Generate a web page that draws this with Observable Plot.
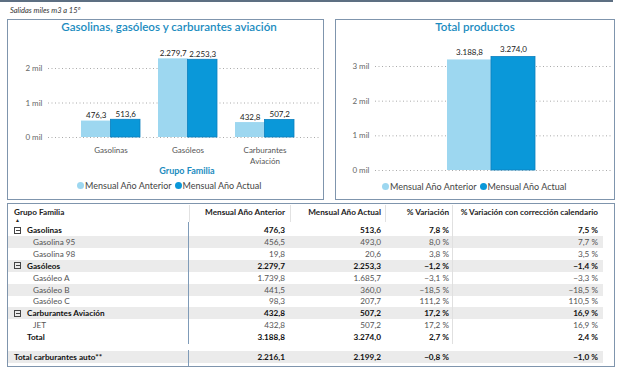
<!DOCTYPE html>
<html><head><meta charset="utf-8">
<script src="https://cdn.jsdelivr.net/npm/d3@7"></script>
<script src="https://cdn.jsdelivr.net/npm/@observablehq/plot@0.6"></script>
<style>
html,body{margin:0;padding:0;background:#fff;}
#root{position:relative;width:620px;height:369px;overflow:hidden;font-family:Lato,"Open Sans",sans-serif;background:#fff;}
.abs{position:absolute;}
.box{position:absolute;border:1px solid #7f95ad;box-sizing:border-box;}
.ttl{position:absolute;color:#1b8cc0;font-weight:600;font-size:11.6px;white-space:nowrap;transform:translateX(-50%);line-height:14px;}
.leg{position:absolute;font-size:9px;color:#444;white-space:nowrap;line-height:11px;display:flex;align-items:center;}
.dot{display:inline-block;width:7px;height:7px;border-radius:50%;margin-right:1px;}
.cell{position:absolute;font-size:8.2px;line-height:12px;white-space:nowrap;}
</style></head>
<body><div id="root"></div>
<script>
// ---------- data ----------
const families = ["Gasolinas", "Gasóleos", "Carburantes Aviación"];
const familyLines = [["Gasolinas"], ["Gasóleos"], ["Carburantes", "Aviación"]];
const anteriorFam = [476.3, 2279.7, 432.8];
const actualFam = [513.6, 2253.3, 507.2];
const totalLabel = ["Total productos"];
const anteriorTotal = [3188.8];
const actualTotal = [3274.0];
const leftTicks = [0, 1000, 2000];
const rightTicks = [0, 1000, 2000, 3000];
const seriesNames = ["Mensual Año Anterior", "Mensual Año Actual"];

const tableHeader = ["Grupo Familia", "Mensual Año Anterior", "Mensual Año Actual", "% Variación", "% Variación con corrección calendario"];
const rowLabels = ["Gasolinas", "Gasolina 95", "Gasolina 98", "Gasóleos", "Gasóleo A", "Gasóleo B", "Gasóleo C", "Carburantes Aviación", "JET", "Total", "Total carburantes auto**"];
const rowTypes = ["group", "item", "item", "group", "item", "item", "item", "group", "item", "total", "grand"];
const colAnterior = [476.3, 456.5, 19.8, 2279.7, 1739.8, 441.5, 98.3, 432.8, 432.8, 3188.8, 2216.1];
const colActual = [513.6, 493.0, 20.6, 2253.3, 1685.7, 360.0, 207.7, 507.2, 507.2, 3274.0, 2199.2];
const colVariacion = [7.8, 8.0, 3.8, -1.2, -3.1, -18.5, 111.2, 17.2, 17.2, 2.7, -0.8];
const colVariacionCal = [7.5, 7.7, 3.5, -1.4, -3.3, -18.5, 110.5, 16.9, 16.9, 2.4, -1.0];

// ---------- helpers ----------
const locale = d3.formatLocale({decimal: ",", thousands: ".", grouping: [3], currency: ["", "€"]});
const fmt = locale.format(",.1f");
const fmtPct = v => locale.format(".1f")(v) + " %";
const light = "#9dd7f0", dark = "#0a98d9";
const FONT = "Lato, 'Open Sans', sans-serif";
const root = document.getElementById("root");
function el(tag, cls, style, text) {
  const e = document.createElement(tag);
  if (cls) e.className = cls;
  Object.assign(e.style, style || {});
  if (text != null) e.textContent = text;
  root.appendChild(e);
  return e;
}

// ---------- frame ----------
el("div", "abs", {left: "0px", top: "0px", width: "613px", height: "2px", background: "#5d6f82"});
el("div", "abs", {left: "10px", top: "5px", fontSize: "7.5px", fontStyle: "italic", color: "#333", lineHeight: "12px"}, "Salidas miles m3 a 15º");
el("div", "box", {left: "7px", top: "19px", width: "317px", height: "181px"});
el("div", "box", {left: "335px", top: "19px", width: "280px", height: "181px"});
el("div", "box", {left: "7px", top: "203px", width: "608px", height: "164px"});

el("div", "ttl", {left: "169px", top: "20px"}, "Gasolinas, gasóleos y carburantes aviación");
el("div", "ttl", {left: "475px", top: "20px"}, "Total productos");

// ---------- left chart ----------
const famData = families.map((f, i) => ({f, anterior: anteriorFam[i], actual: actualFam[i]}));
const labelData = families.flatMap((f, i) => familyLines[i].map((t, j) => ({f, t, j})));
const step = 77.5, pad = 0.24, half = step * (1 - pad) / 2;
const left = Plot.plot({
  width: 325, height: 128, marginLeft: 48, marginRight: 5, marginTop: 0, marginBottom: 0,
  style: {fontFamily: FONT, fontSize: "8px", color: "#666", background: "transparent", overflow: "visible"},
  x: {domain: families, range: [61.4, 312.5], padding: pad, axis: null},
  y: {domain: [0, 2000], range: [97, 28], axis: null},
  marks: [
    Plot.ruleY(leftTicks, {stroke: "#aaa", strokeDasharray: "1,2.5", strokeWidth: 1}),
    Plot.axisY({ticks: leftTicks, tickSize: 0, tickPadding: 6, label: null, tickFormat: d => d / 1000 + " mil", fill: "#666", fontSize: 8}),
    Plot.text(labelData.filter(d => d.j === 0), {x: "f", y: d => 0, text: "t", dy: 13, fill: "#555", fontSize: 8}),
    Plot.text(labelData.filter(d => d.j === 1), {x: "f", y: d => 0, text: "t", dy: 24, fill: "#555", fontSize: 8}),
    Plot.barY(famData, {x: "f", y: "anterior", fill: light, insetRight: half}),
    Plot.barY(famData, {x: "f", y: "actual", fill: dark, stroke: "#0b7fbf", strokeWidth: 0.8, insetLeft: half}),
    Plot.text(famData, {x: "f", y: "anterior", text: d => fmt(d.anterior), dx: -half / 2, dy: -3, lineAnchor: "bottom", fill: "#222", fontSize: 8}),
    Plot.text(famData, {x: "f", y: "actual", text: d => fmt(d.actual), dx: half / 2, dy: -3, lineAnchor: "bottom", fill: "#222", fontSize: 8})
  ]
});
Object.assign(left.style, {position: "absolute", left: "0px", top: "40px"});
root.appendChild(left);
el("div", "abs", {left: "187px", top: "165px", transform: "translateX(-50%)", color: "#1b8cc0", fontWeight: "700", fontSize: "9px", lineHeight: "12px"}, "Grupo Familia");

function legend(x, y) {
  const lg = el("div", "leg", {left: x + "px", top: y + "px"});
  seriesNames.forEach((s, i) => {
    const d = document.createElement("span");
    d.className = "dot";
    d.style.background = i ? dark : light;
    if (i) d.style.marginLeft = "3px";
    lg.appendChild(d);
    lg.appendChild(document.createTextNode(s));
  });
}
legend(77, 180);
legend(382, 181);

// ---------- right chart ----------
const totData = totalLabel.map((f, i) => ({f, anterior: anteriorTotal[i], actual: actualTotal[i]}));
const right = Plot.plot({
  width: 290, height: 140, marginLeft: 45, marginRight: 8, marginTop: 0, marginBottom: 0,
  style: {fontFamily: FONT, fontSize: "8px", color: "#666", background: "transparent", overflow: "visible"},
  x: {domain: totalLabel, range: [117, 205], padding: 0, axis: null},
  y: {domain: [0, 3000], range: [130, 26], axis: null},
  marks: [
    Plot.ruleY(rightTicks, {stroke: "#aaa", strokeDasharray: "1,2.5", strokeWidth: 1}),
    Plot.axisY({ticks: rightTicks, tickSize: 0, tickPadding: 6, label: null, tickFormat: d => d / 1000 + " mil", fill: "#666", fontSize: 8}),
    Plot.barY(totData, {x: "f", y: "anterior", fill: light, insetRight: 44}),
    Plot.barY(totData, {x: "f", y: "actual", fill: dark, stroke: "#0b7fbf", strokeWidth: 0.8, insetLeft: 44}),
    Plot.text(totData, {x: "f", y: "anterior", text: d => fmt(d.anterior), dx: -22, dy: -5, lineAnchor: "bottom", fill: "#222", fontSize: 8}),
    Plot.text(totData, {x: "f", y: "actual", text: d => fmt(d.actual), dx: 22, dy: -5, lineAnchor: "bottom", fill: "#222", fontSize: 8})
  ]
});
Object.assign(right.style, {position: "absolute", left: "330px", top: "40px"});
root.appendChild(right);

// ---------- table ----------
const colEdges = [8, 189, 290, 385, 452, 603];
const padRight = [0, 5, 4, 3, 5];
// header
tableHeader.forEach((h, c) => {
  const st = {top: "206px", fontWeight: "700", color: "#222"};
  if (c === 0) st.left = "14px";
  else st.right = (620 - colEdges[c + 1] + padRight[c]) + "px";
  el("div", "cell", st, h);
});
el("div", "abs", {left: "15px", top: "218px", fontSize: "5px", color: "#222", lineHeight: "5px"}, "▲");
[189, 290, 385, 452].forEach(x => el("div", "abs", {left: x + "px", top: "205px", width: "1px", height: "17px", background: "#e2e2e2"}));

const rowTop = i => i < 10 ? 224 + i * 11.9 : 351;
rowLabels.forEach((lab, i) => {
  const t = rowTop(i), type = rowTypes[i];
  const bg = [1, 3, 5, 7, 10].includes(i);
  if (bg) el("div", "abs", {left: "8px", top: t + "px", width: "595px", height: "12px", background: "#ebebeb"});
  const bold = type !== "item";
  const color = bold ? "#111" : "#555";
  const weight = bold ? "700" : "400";
  const lx = type === "group" ? 27 : type === "item" ? 33 : type === "total" ? 27 : 14;
  if (type === "group") {
    el("div", "abs", {left: "14px", top: (t + 2.5) + "px", width: "7px", height: "7px", border: "1px solid #444", boxSizing: "border-box"});
    el("div", "abs", {left: "15.5px", top: (t + 5.5) + "px", width: "4px", height: "1px", background: "#444"});
  }
  el("div", "cell", {left: lx + "px", top: t + "px", fontWeight: weight, color}, lab);
  const vals = [fmt(colAnterior[i]), fmt(colActual[i]), fmtPct(colVariacion[i]), fmtPct(colVariacionCal[i])];
  vals.forEach((v, k) => {
    const c = k + 1;
    el("div", "cell", {right: (620 - colEdges[c + 1] + padRight[c]) + "px", top: t + "px", fontWeight: weight, color}, v);
  });
});
// separators
el("div", "abs", {left: "188px", top: "222px", width: "1px", height: "122px", background: "#7f9bb8"});
el("div", "abs", {left: "188px", top: "350px", width: "1px", height: "16px", background: "#7f9bb8"});
el("div", "abs", {left: "452px", top: "222px", width: "1px", height: "122px", background: "#e0e0e0"});
</script>
</body></html>
